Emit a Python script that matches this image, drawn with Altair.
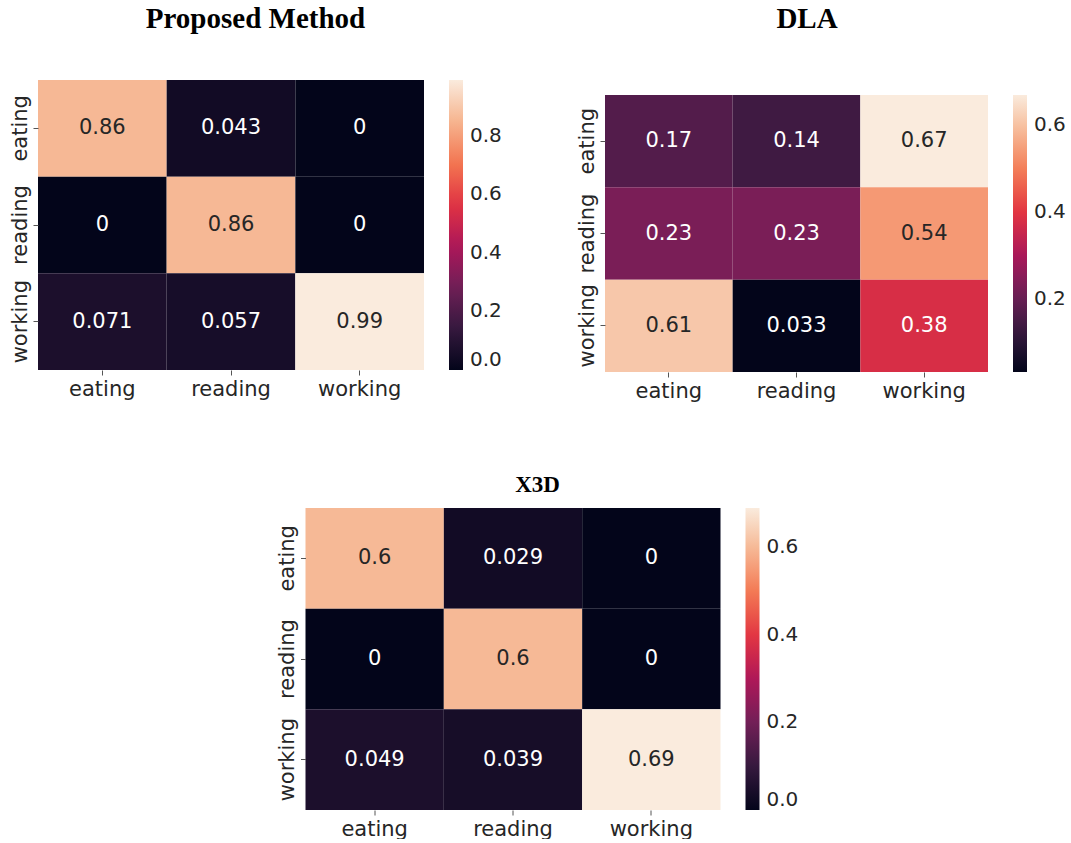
import altair as alt
import pandas as pd

classes = ["eating", "reading", "working"]
titles = ["Proposed Method", "DLA", "X3D"]

proposed = [[0.86, 0.043, 0.0],
            [0.0, 0.86, 0.0],
            [0.071, 0.057, 0.99]]
dla = [[0.17, 0.14, 0.67],
       [0.23, 0.23, 0.54],
       [0.61, 0.033, 0.38]]
x3d = [[0.6, 0.029, 0.0],
       [0.0, 0.6, 0.0],
       [0.049, 0.039, 0.69]]

cbar_ticks = [[0.0, 0.2, 0.4, 0.6, 0.8],
              [0.2, 0.4, 0.6],
              [0.0, 0.2, 0.4, 0.6]]

ROCKET = ["#03051a", "#35193e", "#701f57", "#ad1759",
          "#e13342", "#f37651", "#f6b48f", "#faebdd"]

FONT = "DejaVu Sans"
INK = "#262626"


def panel(mat, title, ticks, w, h, top, tsize, toff, tdx=0):
    vmin = min(min(r) for r in mat)
    vmax = max(max(r) for r in mat)
    rows = []
    for i, t in enumerate(classes):
        for j, p in enumerate(classes):
            v = mat[i][j]
            rows.append({"true": t, "pred": p, "v": v, "label": f"{v:.2g}",
                         "frac": (v - vmin) / (vmax - vmin)})
    df = pd.DataFrame(rows)
    dom = [vmin + (vmax - vmin) * k / (len(ROCKET) - 1) for k in range(len(ROCKET))]

    x = alt.X("pred:N", sort=classes, title=None,
              scale=alt.Scale(paddingInner=0, paddingOuter=0),
              axis=alt.Axis(labelAngle=0, labelFont=FONT, labelFontSize=21,
                            labelColor=INK, tickColor="#555555", tickSize=5,
                            labelPadding=3, domain=False, grid=False))
    y = alt.Y("true:N", sort=classes, title=None,
              scale=alt.Scale(paddingInner=0, paddingOuter=0, range=[top, h]),
              axis=alt.Axis(labelAngle=270, labelAlign="center", labelBaseline="bottom",
                            labelFont=FONT, labelFontSize=21, labelColor=INK,
                            tickColor="#555555", tickSize=5, labelPadding=3,
                            domain=False, grid=False))
    base = alt.Chart(df)
    rect = base.mark_rect().encode(
        x=x, y=y,
        color=alt.Color("v:Q",
                        scale=alt.Scale(domain=dom, range=ROCKET, interpolate="rgb"),
                        legend=alt.Legend(title=None, orient="none", direction="vertical",
                                          legendX=w + 25, legendY=top,
                                          gradientLength=h - top, gradientThickness=14,
                                          gradientStrokeWidth=0,
                                          values=ticks, format=".1f",
                                          labelFont=FONT, labelFontSize=20,
                                          labelColor=INK, labelOffset=7,
                                          labelBaseline="middle", labelOverlap=False)),
    )
    text = base.mark_text(font=FONT, fontSize=21).encode(
        x=x, y=y,
        text="label:N",
        color=alt.condition("datum.frac > 0.77", alt.value(INK), alt.value("white")),
    )
    return alt.layer(rect, text).properties(
        width=w, height=h,
        title=alt.TitleParams(title, font="Liberation Serif", fontWeight="bold",
                              fontSize=tsize, color="black", anchor="middle",
                              frame="bounds",
                              baseline="alphabetic", offset=toff, dx=tdx),
    )


p1 = panel(proposed, titles[0], cbar_ticks[0], 386, 290, 0, 29, 23)
p2 = panel(dla, titles[1], cbar_ticks[1], 383, 292, 15, 29, 23, -14)
p3 = panel(x3d, titles[2], cbar_ticks[2], 415, 302, 0, 23, -7)

row1 = alt.hconcat(p1, p2, spacing=73).resolve_scale(color="independent").resolve_legend(color="independent")
chart = alt.vconcat(row1, p3, spacing=73, center=True).resolve_scale(
    color="independent").resolve_legend(color="independent").properties(
    padding={"left": 8, "top": 5, "right": 5, "bottom": 0},
    background="white",
).configure_view(stroke=None, strokeWidth=0)

chart.save("out.html", embed_options={"renderer": "svg", "actions": False})
